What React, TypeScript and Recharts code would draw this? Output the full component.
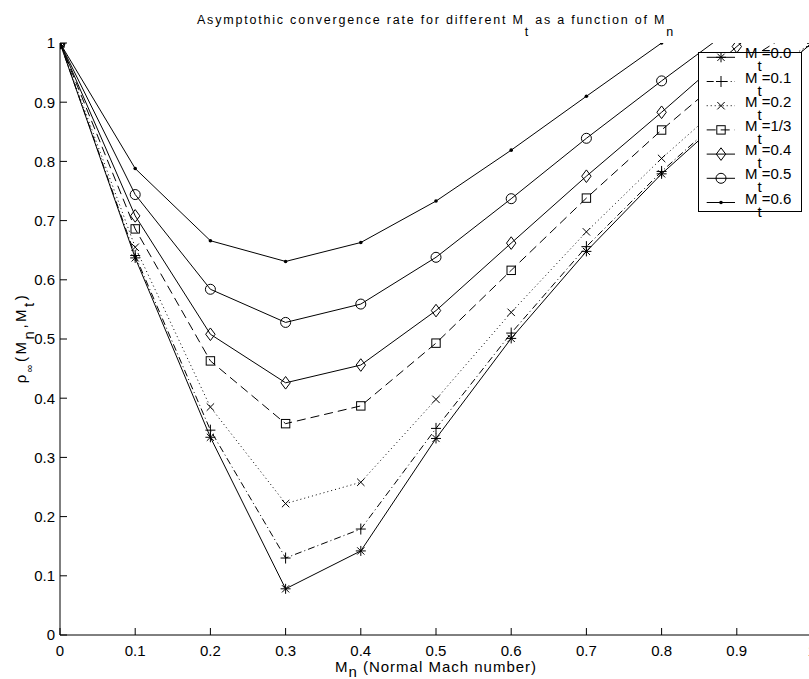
import { LineChart, Line, XAxis, YAxis, Legend } from "recharts";

// Normal Mach number M_n (x axis)
const machNormal = [0, 0.1, 0.2, 0.3, 0.4, 0.5, 0.6, 0.7, 0.8, 0.9, 1.0];

// rho_inf(M_n, M_t) for each tangential Mach number
const rhoMt00 = [1, 0.637, 0.334, 0.078, 0.142, 0.332, 0.501, 0.648, 0.779, 0.893, 1.0];
const rhoMt01 = [1, 0.641, 0.346, 0.13, 0.179, 0.349, 0.51, 0.656, 0.783, 0.897, 1.0];
const rhoMt02 = [1, 0.655, 0.385, 0.222, 0.258, 0.398, 0.545, 0.681, 0.805, 0.918, 1.0];
const rhoMt033 = [1, 0.686, 0.463, 0.357, 0.387, 0.493, 0.616, 0.738, 0.853, 0.96, 1.04];
const rhoMt04 = [1, 0.708, 0.508, 0.426, 0.456, 0.548, 0.662, 0.775, 0.883, 0.994, 1.1];
const rhoMt05 = [1, 0.744, 0.584, 0.528, 0.559, 0.638, 0.737, 0.839, 0.936, 1.03, 1.12];
const rhoMt06 = [1, 0.788, 0.666, 0.631, 0.663, 0.733, 0.819, 0.91, 1.0, 1.09, 1.18];

const legendValues = ["0.0", "0.1", "0.2", "1/3", "0.4", "0.5", "0.6"];

const xTicks = [0, 0.1, 0.2, 0.3, 0.4, 0.5, 0.6, 0.7, 0.8, 0.9, 1];
const yTicks = [0, 0.1, 0.2, 0.3, 0.4, 0.5, 0.6, 0.7, 0.8, 0.9, 1];

type Shape = "star" | "plus" | "cross" | "square" | "diamond" | "circle" | "point";

const series = [
  { key: "mt00", values: rhoMt00, shape: "star" as Shape, dash: undefined },
  { key: "mt01", values: rhoMt01, shape: "plus" as Shape, dash: "7 3 1 3" },
  { key: "mt02", values: rhoMt02, shape: "cross" as Shape, dash: "1 3" },
  { key: "mt033", values: rhoMt033, shape: "square" as Shape, dash: "9 5" },
  { key: "mt04", values: rhoMt04, shape: "diamond" as Shape, dash: undefined },
  { key: "mt05", values: rhoMt05, shape: "circle" as Shape, dash: undefined },
  { key: "mt06", values: rhoMt06, shape: "point" as Shape, dash: undefined },
];

const rows = machNormal.map((m, i) => {
  const row: Record<string, number> = { mn: m };
  series.forEach((s) => {
    row[s.key] = s.values[i];
  });
  return row;
});

const FONT = "'Liberation Sans', Arial, Helvetica, sans-serif";

function Marker({ shape, x, y }: { shape: Shape; x: number; y: number }) {
  const st = { stroke: "#000", strokeWidth: 1, fill: "none" };
  switch (shape) {
    case "star":
      return (
        <g {...st}>
          <line x1={x - 5} y1={y} x2={x + 5} y2={y} />
          <line x1={x} y1={y - 5} x2={x} y2={y + 5} />
          <line x1={x - 3.6} y1={y - 3.6} x2={x + 3.6} y2={y + 3.6} />
          <line x1={x - 3.6} y1={y + 3.6} x2={x + 3.6} y2={y - 3.6} />
        </g>
      );
    case "plus":
      return (
        <g {...st}>
          <line x1={x - 5} y1={y} x2={x + 5} y2={y} />
          <line x1={x} y1={y - 5.5} x2={x} y2={y + 5.5} />
        </g>
      );
    case "cross":
      return (
        <g {...st}>
          <line x1={x - 3.7} y1={y - 3.7} x2={x + 3.7} y2={y + 3.7} />
          <line x1={x - 3.7} y1={y + 3.7} x2={x + 3.7} y2={y - 3.7} />
        </g>
      );
    case "square":
      return <rect x={x - 4.2} y={y - 4.2} width={8.4} height={8.4} {...st} />;
    case "diamond":
      return (
        <polygon
          points={`${x},${y - 6.3} ${x + 4.7},${y} ${x},${y + 6.3} ${x - 4.7},${y}`}
          {...st}
        />
      );
    case "circle":
      return <circle cx={x} cy={y} r={5} {...st} />;
    default:
      return <circle cx={x} cy={y} r={1.8} fill="#000" />;
  }
}

const makeDot = (shape: Shape) => (props: any) => {
  const { cx, cy, index } = props;
  if (cx == null || cy == null) return <g key={index} />;
  return (
    <g key={index}>
      <Marker shape={shape} x={cx} y={cy} />
    </g>
  );
};

// legend box drawn like the MATLAB one
const LegendBox = () => (
  <svg width={104} height={160} style={{ overflow: "visible", display: "block" }}>
    <rect x={0.5} y={0.5} width={103} height={159} fill="#fff" stroke="#000" />
    {series.map((s, i) => {
      const cy = 5.3 + i * 24.2;
      return (
        <g key={s.key}>
          <line
            x1={8.7}
            y1={cy}
            x2={37}
            y2={cy}
            stroke="#000"
            strokeWidth={1}
            strokeDasharray={s.dash}
          />
          <Marker shape={s.shape} x={23} y={cy} />
          <text x={47} y={cy + 1} fontSize={15} fontFamily={FONT} fill="#000">
            M<tspan dy={13}>t</tspan>
            <tspan dy={-13}>={legendValues[i]}</tspan>
          </text>
        </g>
      );
    })}
  </svg>
);

const fmt = (v: number) => String(Math.round(v * 10) / 10);

export default function App() {
  return (
    <div
      style={{
        position: "fixed",
        left: 0,
        top: 0,
        width: 809,
        height: 679,
        overflow: "hidden",
        background: "#fff",
      }}
    >
      <LineChart
        width={830}
        height={679}
        data={rows}
        margin={{ top: 43, right: 18, bottom: 0, left: 0 }}
      >
        <XAxis
          xAxisId="b"
          type="number"
          dataKey="mn"
          domain={[0, 1]}
          ticks={xTicks}
          interval={0}
          allowDataOverflow
          tickSize={-7}
          tickMargin={17}
          height={44}
          stroke="#000"
          tickFormatter={fmt}
          tick={{ fill: "#000", fontSize: 15, fontFamily: FONT }}
        />
        <XAxis
          xAxisId="t"
          orientation="top"
          type="number"
          dataKey="mn"
          domain={[0, 1]}
          ticks={xTicks}
          interval={0}
          allowDataOverflow
          tickSize={-7}
          tick={false}
          height={0}
          stroke="#000"
        />
        <YAxis
          yAxisId="l"
          type="number"
          domain={[0, 1]}
          ticks={yTicks}
          interval={0}
          allowDataOverflow
          tickSize={-7}
          tickMargin={12}
          width={60}
          stroke="#000"
          tickFormatter={fmt}
          tick={{ fill: "#000", fontSize: 15, fontFamily: FONT }}
        />
        <YAxis
          yAxisId="r"
          orientation="right"
          type="number"
          domain={[0, 1]}
          ticks={yTicks}
          interval={0}
          allowDataOverflow
          tickSize={-7}
          tick={false}
          width={0}
          stroke="#000"
        />
        <Legend
          layout="vertical"
          align="center"
          verticalAlign="middle"
          content={() => <LegendBox />}
          wrapperStyle={{ left: 698, top: 52, width: 104, height: 160 }}
        />
        {series.map((s) => (
          <Line
            key={s.key}
            xAxisId="b"
            yAxisId="l"
            type="linear"
            dataKey={s.key}
            stroke="#000"
            strokeWidth={1}
            strokeDasharray={s.dash}
            dot={makeDot(s.shape)}
            activeDot={false}
            isAnimationActive={false}
          />
        ))}
      </LineChart>
      <svg
        width={809}
        height={679}
        style={{ position: "absolute", left: 0, top: 0, pointerEvents: "none" }}
        fontFamily={FONT}
        fill="#000"
      >
        <text x={436} y={24} textAnchor="middle" fontSize={12.5} letterSpacing={1.8}>
          Asymptothic convergence rate for different M<tspan dy={12}>t</tspan>
          <tspan dy={-12}> as a function of M</tspan>
          <tspan dy={12}>n</tspan>
        </text>
        <text x={436} y={672} textAnchor="middle" fontSize={15} letterSpacing={1}>
          M<tspan dy={5}>n</tspan>
          <tspan dy={-5}> (Normal Mach number)</tspan>
        </text>
        <text
          transform="translate(26,338) rotate(-90)"
          textAnchor="middle"
          fontSize={15}
          letterSpacing={2.5}
        >
          ρ<tspan dy={7} fontSize={11}>∞</tspan>
          <tspan dy={-7}>(M</tspan>
          <tspan dy={8}>n</tspan>
          <tspan dy={-8}>,M</tspan>
          <tspan dy={8}>t</tspan>
          <tspan dy={-8}>)</tspan>
        </text>
      </svg>
    </div>
  );
}
